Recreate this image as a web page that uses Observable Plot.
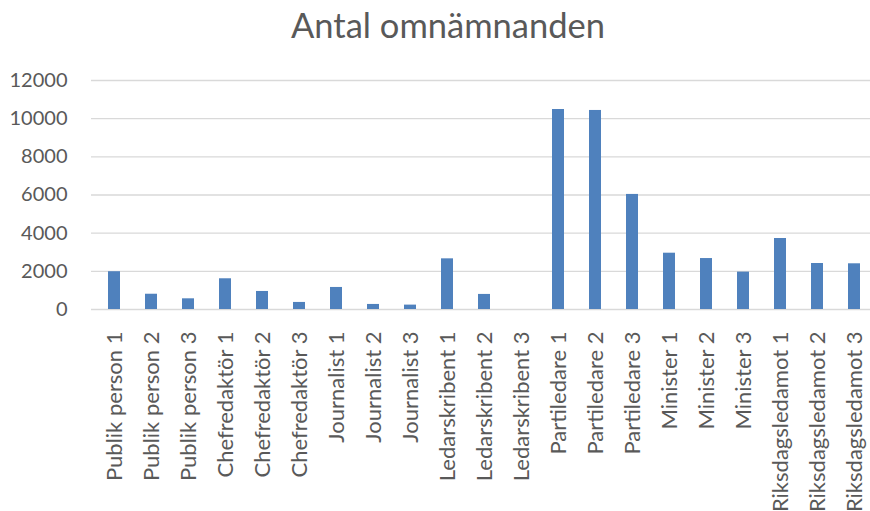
<!DOCTYPE html>
<html>
<head>
<meta charset="utf-8">
<script src="https://cdn.jsdelivr.net/npm/d3@7"></script>
<script src="https://cdn.jsdelivr.net/npm/@observablehq/plot@0.6"></script>
<style>
  body { margin: 0; background: #fff; overflow: hidden; }
  #wrap { position: relative; width: 870px; }
  #title { height: 60px; width: 870px; font-family: Lato, sans-serif; font-size: 34.5px; color: #595959; position: relative; }
  #title span { position: absolute; left: 448px; transform: translateX(-50%); top: 4px; white-space: nowrap; }
</style>
</head>
<body>
<div id="wrap">
  <div id="title"><span>Antal omnämnanden</span></div>
  <div id="chart"></div>
</div>
<script>
const categories = [
  "Publik person 1", "Publik person 2", "Publik person 3",
  "Chefredaktör 1", "Chefredaktör 2", "Chefredaktör 3",
  "Journalist 1", "Journalist 2", "Journalist 3",
  "Ledarskribent 1", "Ledarskribent 2", "Ledarskribent 3",
  "Partiledare 1", "Partiledare 2", "Partiledare 3",
  "Minister 1", "Minister 2", "Minister 3",
  "Riksdagsledamot 1", "Riksdagsledamot 2", "Riksdagsledamot 3"
];
const values = [
  1980, 800, 560,
  1610, 945, 370,
  1155, 265, 230,
  2655, 790, 0,
  10480, 10430, 6030,
  2950, 2670, 1960,
  3720, 2410, 2395
];
const yTicks = [0, 2000, 4000, 6000, 8000, 10000, 12000];

const data = categories.map((c, i) => ({ name: c, value: values[i] }));

const chart = Plot.plot({
  width: 870,
  height: 451,
  marginTop: 20,
  marginBottom: 202,
  marginLeft: 91,
  marginRight: 0,
  style: { fontFamily: "Lato, sans-serif", fontSize: "20px", color: "#595959", background: "#fff", overflow: "visible" },
  x: { domain: categories, range: [98, 870], paddingInner: 0.68, paddingOuter: 0.16, align: 0.5, label: null },
  y: { domain: [0, 12000], range: [249, 20], ticks: yTicks, label: null },
  marks: [
    Plot.ruleY(yTicks, { stroke: "#D9D9D9", strokeWidth: 1.3 }),
    Plot.barY(data, { x: "name", y: "value", fill: "#4F81BD" }),
    Plot.axisY({ ticks: yTicks, tickSize: 0, tickPadding: 24, tickFormat: d => String(d), fontSize: 20, fill: "#595959" }),
    Plot.axisX({ tickSize: 0, tickRotate: -90, tickPadding: 22, fontSize: 22, fill: "#595959" })
  ]
});
document.getElementById("chart").appendChild(chart);
</script>
</body>
</html>
